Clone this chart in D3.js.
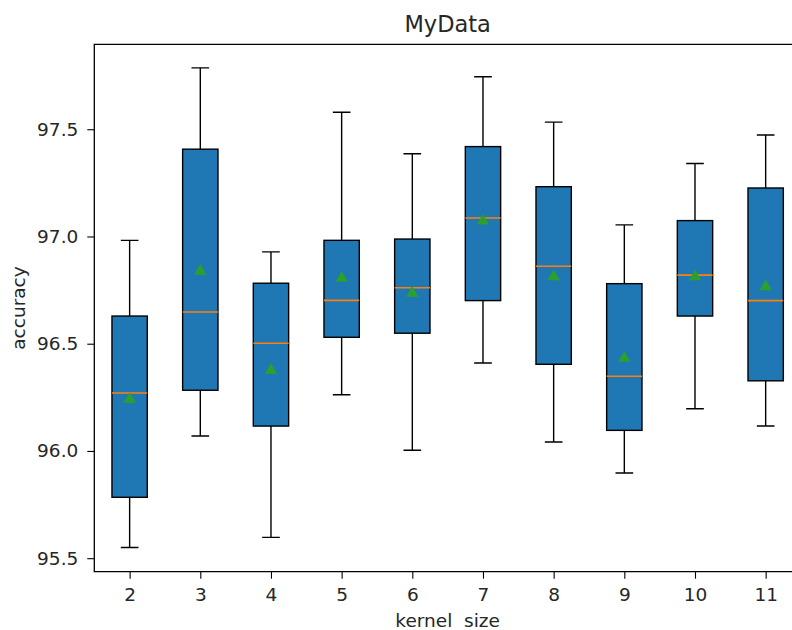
<!DOCTYPE html>
<meta charset="utf-8">
<head>
  <title>MyData boxplot</title>
</head>

<style>
body {
  margin: 0;
  background: #fff;
}
text {
  font-family: "DejaVu Sans", sans-serif;
  fill: #262626;
}
</style>

<body>
  <div id="content">
    <svg width="792" height="630"></svg>
  </div>

  <script src="https://cdnjs.cloudflare.com/ajax/libs/d3/7.8.5/d3.min.js"></script>

  <script>
// kernel sizes and box statistics
var kernels  = ['2', '3', '4', '5', '6', '7', '8', '9', '10', '11'];
var whiskLo  = [95.550, 96.070, 95.597, 96.262, 96.003, 96.410, 96.042, 95.897, 96.197, 96.116];
var q1       = [95.784, 96.283, 96.116, 96.530, 96.549, 96.701, 96.404, 96.096, 96.629, 96.327];
var medians  = [96.270, 96.648, 96.502, 96.702, 96.761, 97.086, 96.861, 96.348, 96.820, 96.701];
var q3       = [96.629, 97.407, 96.782, 96.982, 96.988, 97.419, 97.232, 96.780, 97.074, 97.226];
var whiskHi  = [96.982, 97.786, 96.928, 97.579, 97.386, 97.745, 97.533, 97.054, 97.340, 97.473];
var means    = [96.241, 96.838, 96.377, 96.806, 96.735, 97.072, 96.813, 96.432, 96.813, 96.766];
var yTicks   = [95.5, 96.0, 96.5, 97.0, 97.5];

var margin = {left: 94.3, top: 44.3, right: 801, bottom: 571.7};

var svg = d3.select('#content svg');

var x = d3.scaleLinear()
  .domain([0.5, kernels.length + 0.5])
  .range([margin.left, margin.right]);

var y = d3.scaleLinear()
  .domain([95.437, 97.896])
  .range([margin.bottom, margin.top]);

var step = x(2) - x(1);
var boxW = step * 0.5;
var capW = step * 0.25;

var boxes = kernels.map(function(k, i) {
  return {pos: i + 1, label: k, lo: whiskLo[i], q1: q1[i], med: medians[i],
          q3: q3[i], hi: whiskHi[i], mean: means[i]};
});

var g = svg.append('g');

// whiskers
g.selectAll('.whisk')
  .data(boxes)
  .enter().append('path')
  .attr('fill', 'none')
  .attr('stroke', '#000')
  .attr('stroke-width', 1.4)
  .attr('d', function(d) {
    var cx = x(d.pos);
    return 'M' + cx + ',' + y(d.q3) + 'V' + y(d.hi) +
      'M' + (cx - capW / 2) + ',' + y(d.hi) + 'H' + (cx + capW / 2) +
      'M' + cx + ',' + y(d.q1) + 'V' + y(d.lo) +
      'M' + (cx - capW / 2) + ',' + y(d.lo) + 'H' + (cx + capW / 2);
  });

// boxes
g.selectAll('.box')
  .data(boxes)
  .enter().append('rect')
  .attr('x', function(d) { return x(d.pos) - boxW / 2; })
  .attr('y', function(d) { return y(d.q3); })
  .attr('width', boxW)
  .attr('height', function(d) { return y(d.q1) - y(d.q3); })
  .attr('fill', '#1f77b4')
  .attr('stroke', '#000')
  .attr('stroke-width', 1.4);

// medians
g.selectAll('.med')
  .data(boxes)
  .enter().append('line')
  .attr('x1', function(d) { return x(d.pos) - boxW / 2; })
  .attr('x2', function(d) { return x(d.pos) + boxW / 2; })
  .attr('y1', function(d) { return y(d.med); })
  .attr('y2', function(d) { return y(d.med); })
  .attr('stroke', '#ff7f0e')
  .attr('stroke-width', 1.6);

// means
var tri = d3.symbol().type(d3.symbolTriangle).size(66);
g.selectAll('.mean')
  .data(boxes)
  .enter().append('path')
  .attr('d', tri)
  .attr('transform', function(d) { return 'translate(' + x(d.pos) + ',' + y(d.mean) + ')'; })
  .attr('fill', '#2ca02c');

// axes
var yAxis = d3.axisLeft(y).tickValues(yTicks).tickFormat(d3.format('.1f')).tickSize(7).tickPadding(9);
var xAxis = d3.axisBottom(x).tickValues(boxes.map(function(d) { return d.pos; }))
  .tickFormat(function(p) { return kernels[p - 1]; }).tickSize(7).tickPadding(9);

var ya = svg.append('g')
  .attr('transform', 'translate(' + margin.left + ',0)')
  .call(yAxis);
var xa = svg.append('g')
  .attr('transform', 'translate(0,' + margin.bottom + ')')
  .call(xAxis);

[ya, xa].forEach(function(a) {
  a.select('.domain').remove();
  a.selectAll('line').attr('stroke', '#000').attr('stroke-width', 1.1);
  a.selectAll('text').attr('font-size', 18.5).attr('fill', '#262626')
    .attr('font-family', '"DejaVu Sans", sans-serif');
});

// spines
svg.append('path')
  .attr('fill', 'none')
  .attr('stroke', '#000')
  .attr('stroke-width', 1.3)
  .attr('d', 'M' + margin.right + ',' + margin.top + 'H' + margin.left +
    'V' + margin.bottom + 'H' + margin.right + 'V' + margin.top);

// title and labels
svg.append('text')
  .attr('x', (margin.left + margin.right) / 2)
  .attr('y', 32)
  .attr('text-anchor', 'middle')
  .attr('font-size', 22.5)
  .text('MyData');

svg.append('text')
  .attr('x', (margin.left + margin.right) / 2)
  .attr('y', 627)
  .attr('text-anchor', 'middle')
  .attr('font-size', 18.5)
  .attr('xml:space', 'preserve')
  .style('white-space', 'pre')
  .text('kernel  size');

svg.append('text')
  .attr('transform', 'translate(25,' + (margin.top + margin.bottom) / 2 + ') rotate(-90)')
  .attr('text-anchor', 'middle')
  .attr('font-size', 18.5)
  .text('accuracy');
  </script>
</body>
</html>
